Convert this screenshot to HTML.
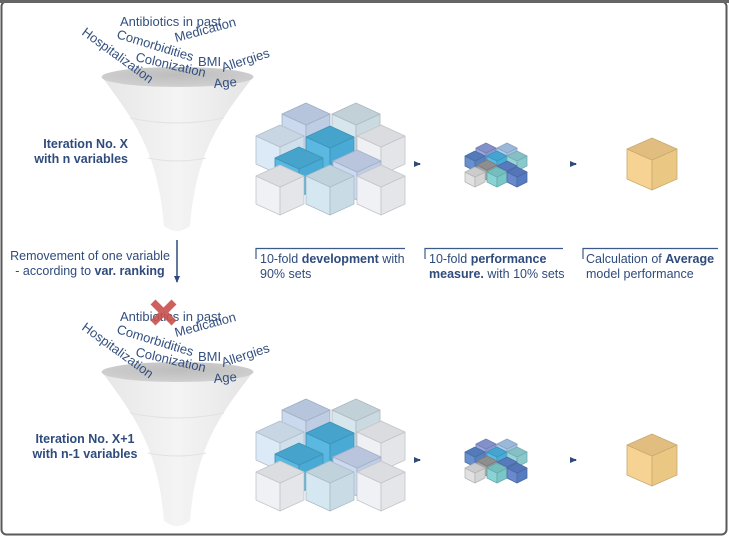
<!DOCTYPE html>
<html><head><meta charset="utf-8"><style>
html,body{margin:0;padding:0;background:#fff;}
svg{display:block;font-family:"Liberation Sans",sans-serif;}
.w{fill:#34507f;font-size:13px;}
.l{fill:#2f4b7c;font-size:12.5px;}
</style></head><body>
<svg id="s" width="729" height="537" viewBox="0 0 729 537" xmlns="http://www.w3.org/2000/svg">
<defs>
<linearGradient id="fg" x1="0" x2="1" y1="0" y2="0">
<stop offset="0" stop-color="#e6e6e6"/><stop offset="0.5" stop-color="#f4f4f4"/><stop offset="1" stop-color="#e4e4e4"/></linearGradient>
<radialGradient id="eg" cx="0.5" cy="0.4" r="0.6"><stop offset="0" stop-color="#bdbdbd"/><stop offset="1" stop-color="#d0d0d0"/></radialGradient>
<marker id="ah" markerWidth="8" markerHeight="8" refX="6" refY="4" orient="auto" markerUnits="userSpaceOnUse"><path d="M0,1 L7,4 L0,7 Z" fill="#2f4b7c"/></marker>
</defs>
<rect x="1.5" y="1.5" width="725" height="533" rx="5" fill="#fff" stroke="#5a5a5a" stroke-width="2"/>
<rect x="0" y="0" width="729" height="3" fill="#666"/>

<g id="top">
<path d="M102,77 C132,118 158,150 164,226 Q177,236 190,226 C196,150 222,118 253,77 Z" fill="url(#fg)"/>
<path d="M130,118 Q177,128 224,118 M148,158 Q177,164 206,158" fill="none" stroke="#e2e2e2" stroke-width="1"/>
<ellipse cx="177.5" cy="77" rx="76" ry="10" fill="url(#eg)"/>
<text class="w" x="120" y="26">Antibiotics in past</text>
<text class="w" transform="translate(176,42) rotate(-15)">Medication</text>
<text class="w" transform="translate(116,38) rotate(17)">Comorbidities</text>
<text class="w" transform="translate(81,34) rotate(36)">Hospitalization</text>
<text class="w" transform="translate(135,61) rotate(13)">Colonization</text>
<text class="w" x="198" y="66">BMI</text>
<text class="w" transform="translate(223,72) rotate(-18)">Allergies</text>
<text class="w" transform="translate(214,88) rotate(-5)">Age</text>
</g>
<g transform="translate(0,295)">
<path d="M102,77 C132,118 158,150 164,226 Q177,236 190,226 C196,150 222,118 253,77 Z" fill="url(#fg)"/>
<path d="M130,118 Q177,128 224,118 M148,158 Q177,164 206,158" fill="none" stroke="#e2e2e2" stroke-width="1"/>
<ellipse cx="177.5" cy="77" rx="76" ry="10" fill="url(#eg)"/>
<text class="w" x="120" y="26">Antibiotics in past</text>
<text class="w" transform="translate(176,42) rotate(-15)">Medication</text>
<text class="w" transform="translate(116,38) rotate(17)">Comorbidities</text>
<text class="w" transform="translate(81,34) rotate(36)">Hospitalization</text>
<text class="w" transform="translate(135,61) rotate(13)">Colonization</text>
<text class="w" x="198" y="66">BMI</text>
<text class="w" transform="translate(223,72) rotate(-18)">Allergies</text>
<text class="w" transform="translate(214,88) rotate(-5)">Age</text>
<path d="M153,7 L174,28 M174,7 L153,28" stroke="#c9504c" stroke-width="7" opacity="0.9"/>
</g>

<text class="l" style="font-weight:bold" x="128" y="148" text-anchor="end">Iteration No. X</text>
<text class="l" style="font-weight:bold" x="128" y="163" text-anchor="end">with n variables</text>
<text class="l" style="font-weight:bold" x="85" y="443" text-anchor="middle">Iteration No. X+1</text>
<text class="l" style="font-weight:bold" x="85" y="458" text-anchor="middle">with n-1 variables</text>

<text class="l" x="90" y="260" text-anchor="middle">Removement of one variable</text>
<text class="l" x="90" y="275" text-anchor="middle">- according to <tspan font-weight="bold">var. ranking</tspan></text>
<line x1="177" y1="240" x2="177" y2="282" stroke="#2f4b7c" stroke-width="1.5" marker-end="url(#ah)"/>

<g fill="none" stroke="#3b5a8c" stroke-width="1.2">
<path d="M256,259 V248.5 H405"/>
<path d="M425,259 V248.5 H563"/>
<path d="M583,259 V248.5 H718"/>
</g>
<text class="l" x="260" y="263">10-fold <tspan font-weight="bold">development</tspan> with</text>
<text class="l" x="260" y="278">90% sets</text>
<text class="l" x="429" y="263">10-fold <tspan font-weight="bold">performance</tspan></text>
<text class="l" x="429" y="278"><tspan font-weight="bold">measure.</tspan> with 10% sets</text>
<text class="l" x="586" y="263">Calculation of <tspan font-weight="bold">Average</tspan></text>
<text class="l" x="586" y="278">model performance</text>

<g id="cubes"></g>
<g stroke="#2f4b7c" stroke-width="2">
<line x1="414" y1="164" x2="420" y2="164" marker-end="url(#ah)"/>
<line x1="570" y1="164" x2="576" y2="164" marker-end="url(#ah)"/>
<line x1="414" y1="460" x2="420" y2="460" marker-end="url(#ah)"/>
<line x1="570" y1="460" x2="576" y2="460" marker-end="url(#ah)"/>
</g>
</svg>
<script>
(function(){
var g=document.getElementById('cubes'),NS='http://www.w3.org/2000/svg';
function shade(hex,f){var n=parseInt(hex.slice(1),16),r=n>>16,gg=(n>>8)&255,b=n&255;
function c(v){v=Math.round(f<1?v*f:v+(255-v)*(f-1));return Math.max(0,Math.min(255,v));}
return 'rgb('+c(r)+','+c(gg)+','+c(b)+')';}
function poly(pts,fill,st){var p=document.createElementNS(NS,'polygon');p.setAttribute('points',pts.join(','));p.setAttribute('fill',fill);p.setAttribute('stroke',st);p.setAttribute('stroke-width','0.8');p.setAttribute('stroke-linejoin','round');g.appendChild(p);}
function cube(x,y,w,h,t,col){var st=shade(col,0.82),m=x+w/2;
poly([x,y+t,m,y+2*t,m,y+h,x,y+h-t],shade(col,1.08),st);
poly([m,y+2*t,x+w,y+t,x+w,y+h-t,m,y+h],shade(col,0.96),st);
poly([m,y,x+w,y+t,m,y+2*t,x,y+t],shade(col,0.92),st);}
var big=[[282,103,'#c6d6ee'],[332,103,'#d3e3ea'],[256,125,'#d9e8f6'],[306,126,'#4cb2de'],[357,125,'#edeff3'],[275,147,'#4cb2de'],[333,150,'#c8d6f0'],[256,165,'#eef0f4'],[306,165,'#d1e5f0'],[357,165,'#eef0f4']];
var small=[[476,143,'#8e9ddc'],[497,143,'#a9c8ec'],[465,151,'#5b86c9'],[487,151,'#4ab4e2'],[507,151,'#8fd1d6'],[477,160,'#9a9a9a'],[497,161,'#5f85cc'],[465,167,'#dedede'],[487,167,'#7fcfd0'],[507,167,'#5b80c8']];
[0,296].forEach(function(o){
big.forEach(function(c){cube(c[0],c[1]+o,48,50,11,c[2]);});
small.forEach(function(c){cube(c[0],c[1]+o,20,20,5,c[2]);});
cube(627,138+o,50,52,11,'#f5cf8a');
});
})();
</script>
</body></html>
